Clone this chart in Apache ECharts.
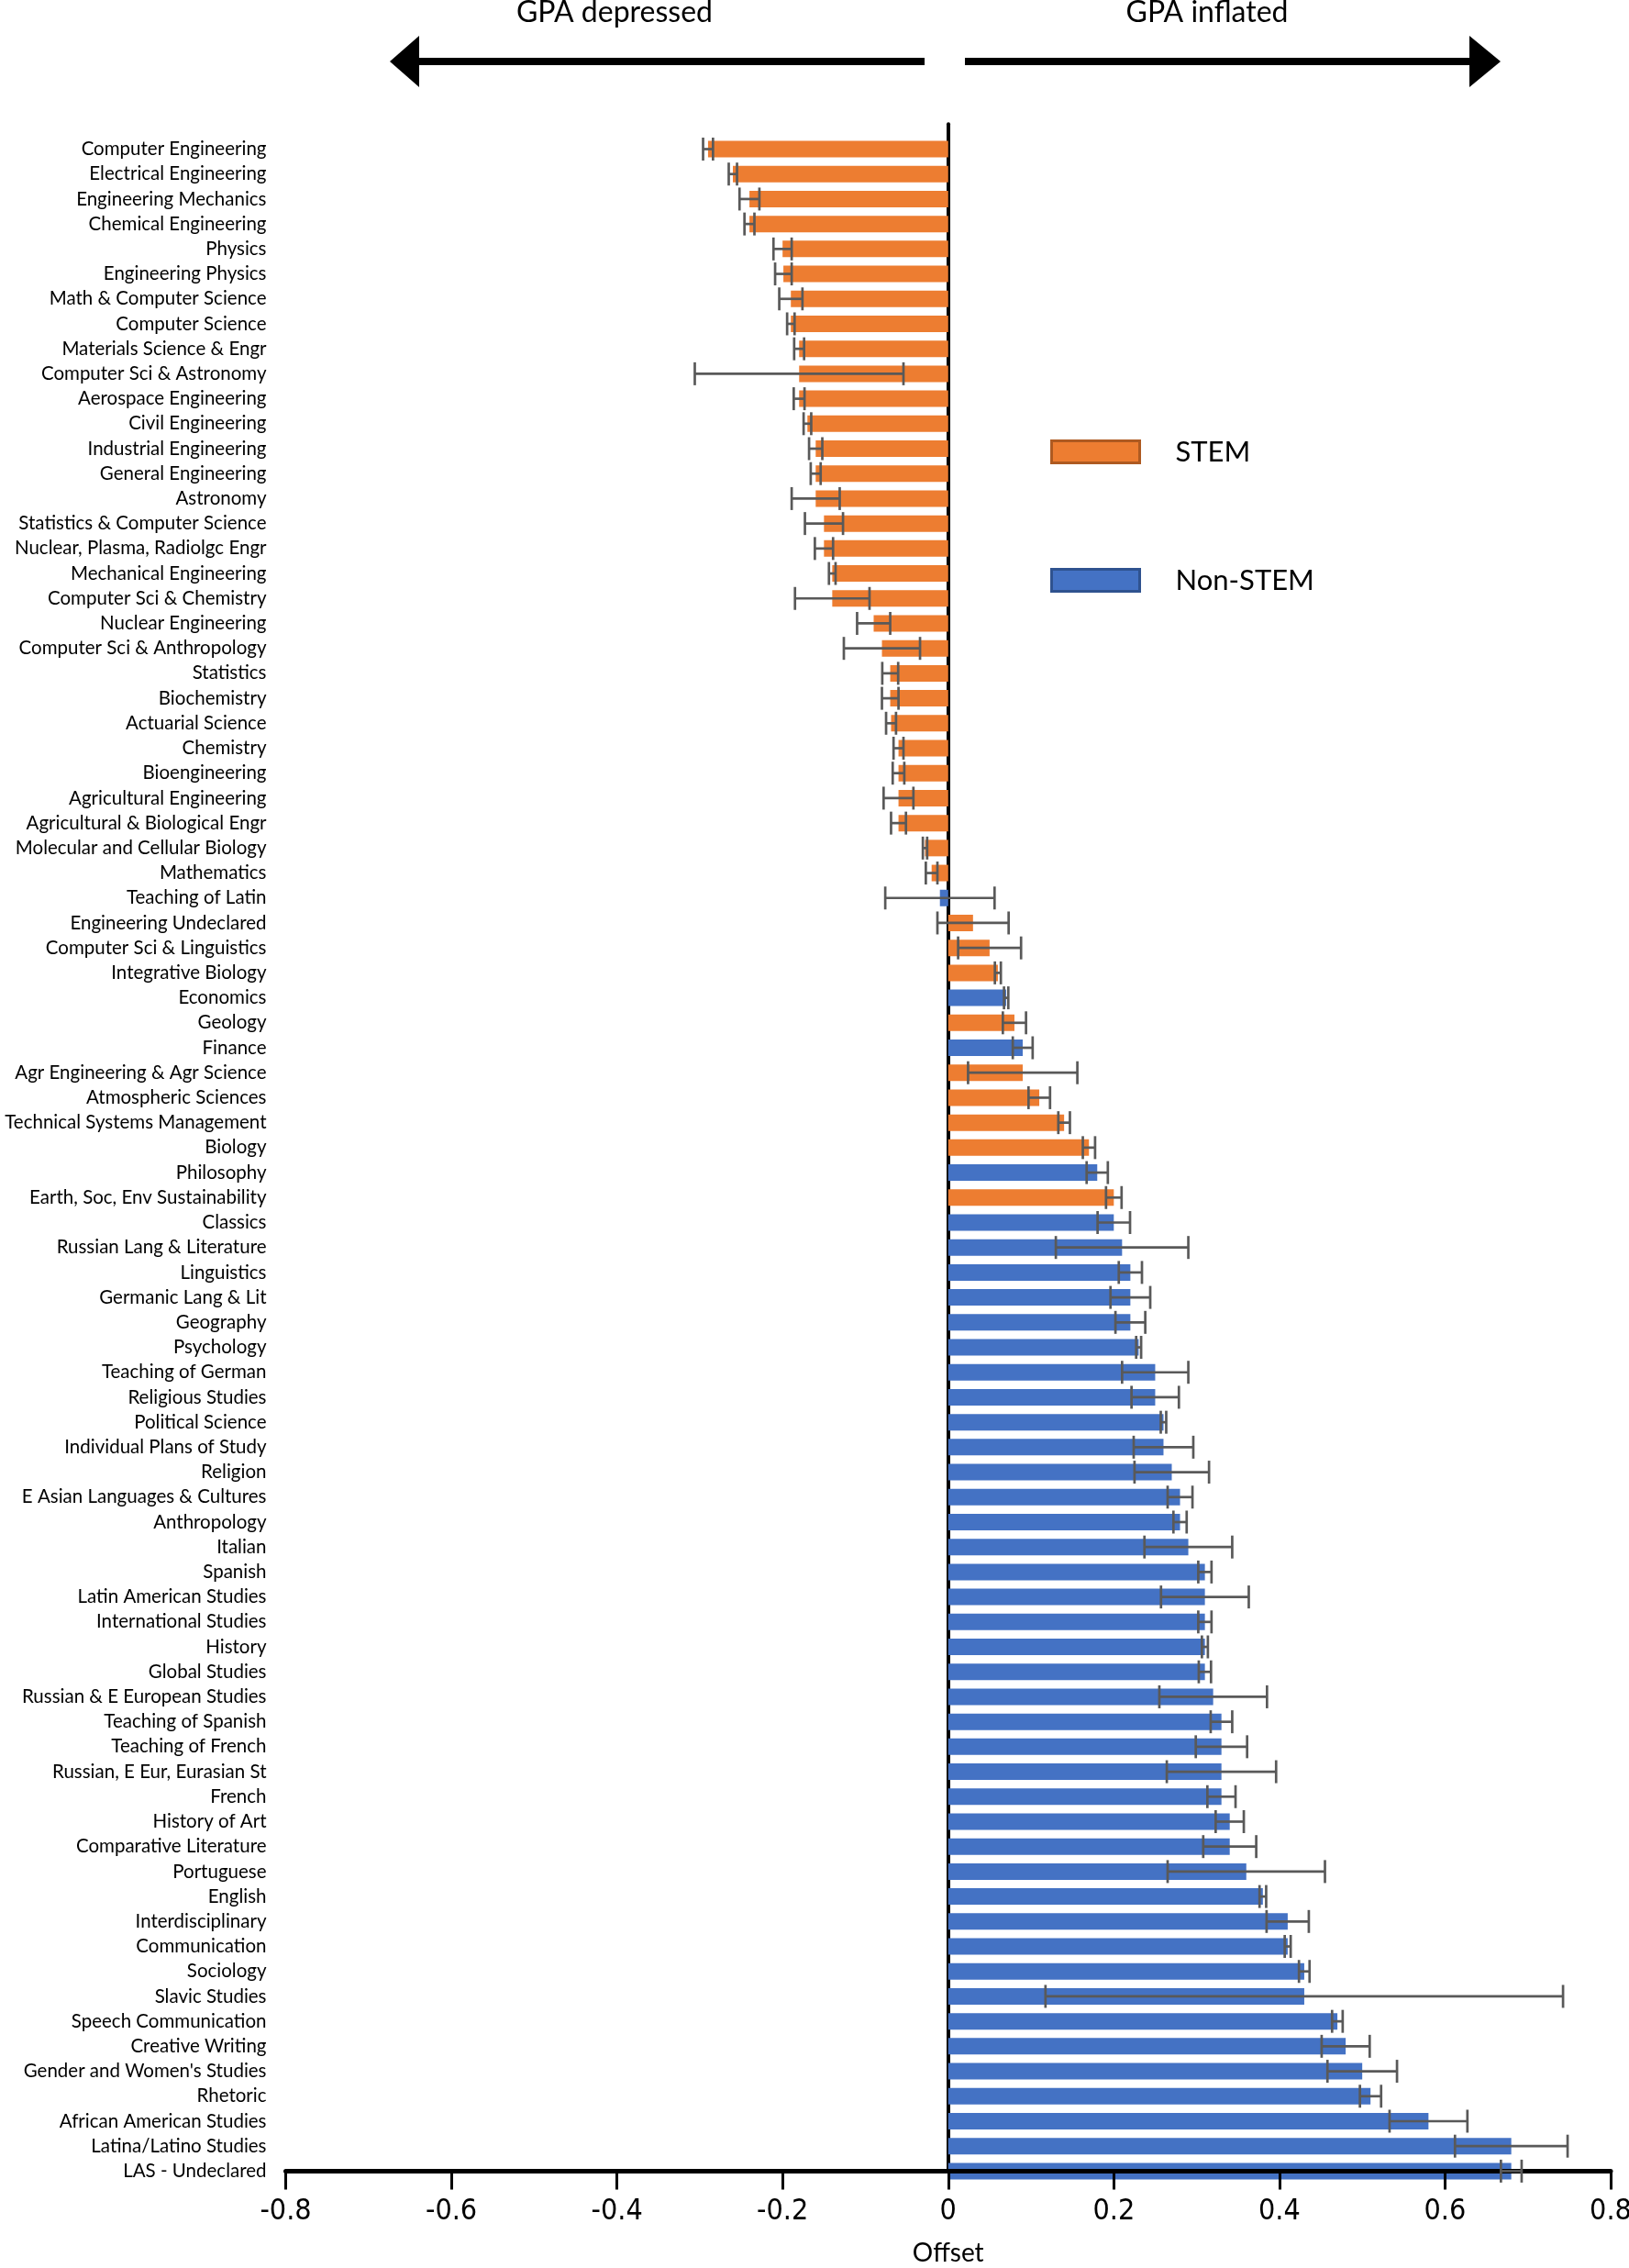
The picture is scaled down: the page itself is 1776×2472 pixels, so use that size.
<!DOCTYPE html>
<html>
<head>
<meta charset="utf-8">
<script src="https://cdn.jsdelivr.net/npm/echarts@6/dist/echarts.min.js"></script>
<style>
html,body{margin:0;padding:0;background:#fff;}
#chart{width:1776px;height:2472px;}
</style>
</head>
<body>
<div id="chart"></div>
<script>
const categories = [
  "Computer Engineering","Electrical Engineering","Engineering Mechanics","Chemical Engineering","Physics",
  "Engineering Physics","Math & Computer Science","Computer Science","Materials Science & Engr","Computer Sci & Astronomy",
  "Aerospace Engineering","Civil Engineering","Industrial Engineering","General Engineering","Astronomy",
  "Statistics & Computer Science","Nuclear, Plasma, Radiolgc Engr","Mechanical Engineering","Computer Sci & Chemistry","Nuclear Engineering",
  "Computer Sci & Anthropology","Statistics","Biochemistry","Actuarial Science","Chemistry",
  "Bioengineering","Agricultural Engineering","Agricultural & Biological Engr","Molecular and Cellular Biology","Mathematics",
  "Teaching of Latin","Engineering Undeclared","Computer Sci & Linguistics","Integrative Biology","Economics",
  "Geology","Finance","Agr Engineering & Agr Science","Atmospheric Sciences","Technical Systems Management",
  "Biology","Philosophy","Earth, Soc, Env Sustainability","Classics","Russian Lang & Literature",
  "Linguistics","Germanic Lang & Lit","Geography","Psychology","Teaching of German",
  "Religious Studies","Political Science","Individual Plans of Study","Religion","E Asian Languages & Cultures",
  "Anthropology","Italian","Spanish","Latin American Studies","International Studies",
  "History","Global Studies","Russian & E European Studies","Teaching of Spanish","Teaching of French",
  "Russian, E Eur, Eurasian St","French","History of Art","Comparative Literature","Portuguese",
  "English","Interdisciplinary","Communication","Sociology","Slavic Studies",
  "Speech Communication","Creative Writing","Gender and Women's Studies","Rhetoric","African American Studies",
  "Latina/Latino Studies","LAS - Undeclared"
];

// 1 = STEM, 0 = Non-STEM
const stemFlag = [
  1,1,1,1,1, 1,1,1,1,1,
  1,1,1,1,1, 1,1,1,1,1,
  1,1,1,1,1, 1,1,1,1,1,
  0,1,1,1,0, 1,0,1,1,1,
  1,0,1,0,0, 0,0,0,0,0,
  0,0,0,0,0, 0,0,0,0,0,
  0,0,0,0,0, 0,0,0,0,0,
  0,0,0,0,0, 0,0,0,0,0,
  0,0
];

const offsets = [
  -0.290,-0.260,-0.240,-0.240,-0.200,
  -0.199,-0.190,-0.190,-0.180,-0.180,
  -0.180,-0.170,-0.160,-0.160,-0.160,
  -0.150,-0.150,-0.140,-0.140,-0.090,
  -0.080,-0.070,-0.070,-0.069,-0.060,
  -0.060,-0.060,-0.060,-0.028,-0.020,
  -0.010, 0.030, 0.050, 0.060, 0.070,
   0.080, 0.090, 0.090, 0.110, 0.140,
   0.170, 0.180, 0.200, 0.200, 0.210,
   0.220, 0.220, 0.220, 0.230, 0.250,
   0.250, 0.260, 0.260, 0.270, 0.280,
   0.280, 0.290, 0.310, 0.310, 0.310,
   0.310, 0.310, 0.320, 0.330, 0.330,
   0.330, 0.330, 0.340, 0.340, 0.360,
   0.380, 0.410, 0.410, 0.430, 0.430,
   0.470, 0.480, 0.500, 0.510, 0.580,
   0.680, 0.680
];

// half-width of the error bars
const errors = [
  0.006,0.005,0.012,0.006,0.011,
  0.010,0.014,0.0045,0.006,0.126,
  0.0065,0.0046,0.008,0.006,0.029,
  0.023,0.011,0.004,0.045,0.020,
  0.046,0.0096,0.010,0.006,0.006,
  0.007,0.018,0.009,0.0026,0.007,
  0.066,0.043,0.038,0.0036,0.0026,
  0.014,0.012,0.066,0.013,0.007,
  0.0074,0.0128,0.0094,0.0196,0.080,
  0.014,0.024,0.018,0.003,0.040,
  0.0286,0.0033,0.036,0.045,0.015,
  0.008,0.053,0.008,0.053,0.008,
  0.0036,0.0074,0.065,0.013,0.031,
  0.066,0.017,0.017,0.032,0.095,
  0.004,0.0255,0.0036,0.0064,0.3125,
  0.0064,0.029,0.042,0.0128,0.047,
  0.068,0.0125
];

const xTicks = { min: -0.8, max: 0.8, interval: 0.2 };

const ORANGE = '#ED7D31', BLUE = '#4472C4';

const stemData = offsets.map((v, i) => stemFlag[i] ? v : '-');
const nonStemData = offsets.map((v, i) => stemFlag[i] ? '-' : v);
const errData = offsets.map((v, i) => [v - errors[i], v + errors[i], i]);

const chart = echarts.init(document.getElementById('chart'), null, {renderer: 'canvas'});

const LABEL_FONT = 'Lato, "Liberation Sans", sans-serif';

const option = {
  backgroundColor: '#ffffff',
  animation: false,
  grid: { left: 311.5, right: 20, top: 135.3, bottom: 105.6, containLabel: false, outerBoundsMode: 'none' },
  xAxis: {
    type: 'value',
    min: xTicks.min, max: xTicks.max, interval: xTicks.interval,
    z: 5,
    axisLine: { show: true, onZero: false, lineStyle: { color: '#000', width: 5 } },
    axisTick: { show: true, length: 20, lineStyle: { color: '#000', width: 3 } },
    splitLine: { show: false },
    axisLabel: {
      color: '#000', fontSize: 32, margin: 28,
      fontFamily: '"Liberation Sans Narrow", "DejaVu Sans Condensed", "Liberation Sans", sans-serif',
      formatter: v => (Math.abs(v) < 1e-9 ? '0' : String(Math.round(v * 10) / 10))
    },
    name: 'Offset',
    nameLocation: 'middle',
    nameGap: 76,
    nameTextStyle: { color: '#000', fontSize: 28, fontFamily: LABEL_FONT }
  },
  yAxis: [
    {
      type: 'category',
      data: categories,
      inverse: true,
      boundaryGap: false,
      min: -1,
      axisLine: { show: false, onZero: false },
      axisTick: { show: false },
      splitLine: { show: false },
      axisLabel: {
        color: '#000', fontSize: 20.5, margin: 21, interval: 0,
        fontFamily: LABEL_FONT
      }
    },
    {
      type: 'category',
      data: categories,
      inverse: true,
      boundaryGap: false,
      min: -1,
      axisLine: { show: true, onZero: true, lineStyle: { color: '#000', width: 4 } },
      axisTick: { show: false },
      axisLabel: { show: false },
      splitLine: { show: false }
    }
  ],
  legend: {
    orient: 'vertical',
    left: 1140, top: 472,
    itemWidth: 96, itemHeight: 24, itemGap: 109,
    selectedMode: false,
    icon: 'rect',
    textStyle: { color: '#000', fontSize: 31, fontFamily: LABEL_FONT, padding: [0, 0, 0, 34] },
    data: [
      { name: 'STEM', itemStyle: { color: ORANGE, borderColor: '#AE5A21', borderWidth: 3 } },
      { name: 'Non-STEM', itemStyle: { color: BLUE, borderColor: '#2F528F', borderWidth: 3 } }
    ]
  },
  series: [
    {
      name: 'STEM', type: 'bar', yAxisIndex: 0,
      data: stemData, barWidth: 18, barGap: '-100%',
      itemStyle: { color: ORANGE }, z: 2
    },
    {
      name: 'Non-STEM', type: 'bar', yAxisIndex: 0,
      data: nonStemData, barWidth: 18, barGap: '-100%',
      itemStyle: { color: BLUE }, z: 2
    },
    {
      name: 'Error', type: 'custom', yAxisIndex: 0,
      data: errData,
      encode: { x: [0, 1], y: 2 },
      z: 10,
      renderItem: function (params, api) {
        const idx = api.value(2);
        const lo = api.coord([api.value(0), idx]);
        const hi = api.coord([api.value(1), idx]);
        const h = 12.5;
        const st = { stroke: '#595959', lineWidth: 2.7 };
        return {
          type: 'group',
          children: [
            { type: 'line', shape: { x1: lo[0], y1: lo[1], x2: hi[0], y2: hi[1] }, style: st },
            { type: 'line', shape: { x1: lo[0], y1: lo[1] - h, x2: lo[0], y2: lo[1] + h }, style: st },
            { type: 'line', shape: { x1: hi[0], y1: hi[1] - h, x2: hi[0], y2: hi[1] + h }, style: st }
          ]
        };
      }
    }
  ],
  graphic: [
    { type: 'text', x: 670, y: 14,
      style: { text: 'GPA depressed', font: '32px ' + LABEL_FONT, fill: '#000', textAlign: 'center', textVerticalAlign: 'middle' } },
    { type: 'text', x: 1316, y: 14,
      style: { text: 'GPA inflated', font: '32px ' + LABEL_FONT, fill: '#000', textAlign: 'center', textVerticalAlign: 'middle' } },
    { type: 'rect', shape: { x: 455, y: 63, width: 553, height: 8 }, style: { fill: '#000' } },
    { type: 'polygon', shape: { points: [[425, 67], [457, 39], [457, 95]] }, style: { fill: '#000' } },
    { type: 'rect', shape: { x: 1052, y: 63, width: 552, height: 8 }, style: { fill: '#000' } },
    { type: 'polygon', shape: { points: [[1636, 67], [1602, 39], [1602, 95]] }, style: { fill: '#000' } }
  ]
};

chart.setOption(option);
</script>
</body>
</html>
